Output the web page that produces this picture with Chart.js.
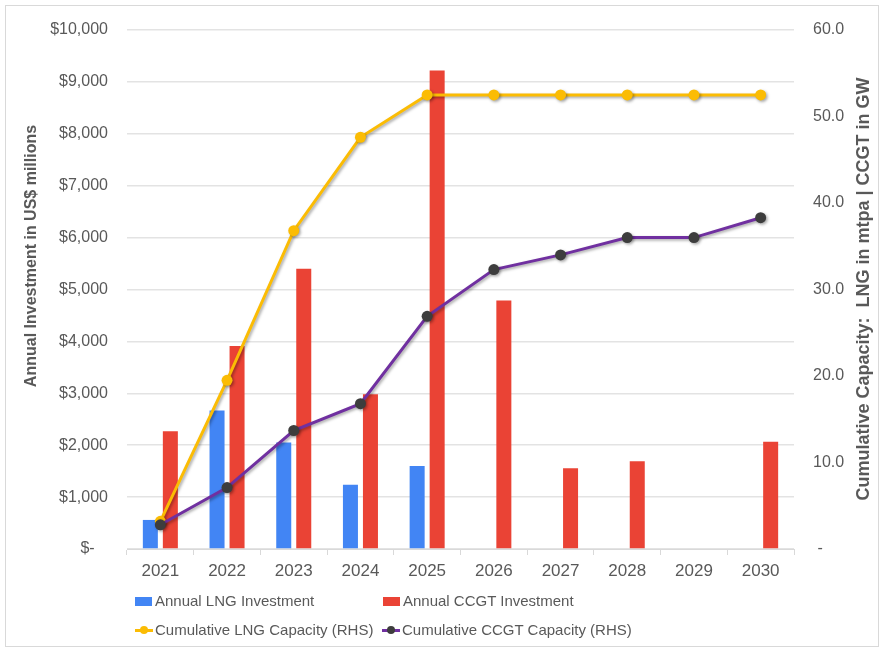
<!DOCTYPE html>
<html>
<head>
<meta charset="utf-8">
<script src="https://cdn.jsdelivr.net/npm/chart.js@4/dist/chart.umd.min.js"></script>
<style>
  html,body{margin:0;padding:0;background:#fff;}
  #wrap{position:relative;width:886px;height:652px;font-family:"Liberation Sans",Arial,sans-serif;}
  #frame{position:absolute;left:5px;top:5px;width:874px;height:642px;border:1px solid #d9d9d9;box-sizing:border-box;pointer-events:none;}
  canvas{position:absolute;left:0;top:0;}
  .lg{position:absolute;font-size:15px;color:#595959;white-space:nowrap;line-height:18px;}
  .sym{position:absolute;}
</style>
</head>
<body>
<div id="wrap">
  <canvas id="c" width="886" height="652"></canvas>
  <div id="frame"></div>
  <div id="legend"></div>
</div>
<script>
// ---- Data ----
const years = ['2021','2022','2023','2024','2025','2026','2027','2028','2029','2030'];
const lngInvestment  = [560, 2670, 2050, 1240, 1600, 0, 0, 0, 0, 0];
const ccgtInvestment = [2270, 3910, 5400, 2980, 9220, 4790, 1555, 1690, 0, 2065];
const lngCapacity    = [3.2, 19.5, 36.8, 47.6, 52.5, 52.5, 52.5, 52.5, 52.5, 52.5];
const ccgtCapacity   = [2.8, 7.1, 13.7, 16.8, 26.9, 32.3, 34.0, 36.0, 36.0, 38.3];
const seriesLabels = ['Annual LNG Investment','Annual CCGT Investment','Cumulative LNG Capacity (RHS)','Cumulative CCGT Capacity (RHS)'];
const leftTitle  = 'Annual Investment in US$ millions';
const rightTitle = 'Cumulative Capacity:  LNG in mtpa | CCGT in GW';

const BLUE='#4285F4', RED='#EA4335', YELLOW='#FBBC04', PURPLE='#7030A0', DOT='#3d3d3d';
const TXT='#595959', FONT='"Liberation Sans", Arial, sans-serif';

const shadowPlugin = {
  id:'shadow',
  beforeDatasetDraw(chart,args){
    if(chart.data.datasets[args.index].type==='line'){
      const ctx=chart.ctx; ctx.save();
      ctx.shadowColor='rgba(0,0,0,0.35)'; ctx.shadowBlur=3; ctx.shadowOffsetX=1.5; ctx.shadowOffsetY=1.5;
    }
  },
  afterDatasetDraw(chart,args){
    if(chart.data.datasets[args.index].type==='line'){ chart.ctx.restore(); }
  }
};
const titlesPlugin = {
  id:'axisTitles',
  afterDraw(chart){
    const ctx=chart.ctx; ctx.save();
    ctx.fillStyle=TXT; ctx.font='bold 16px '+FONT; ctx.textAlign='center'; ctx.textBaseline='middle';
    ctx.translate(32,256); ctx.rotate(-Math.PI/2); ctx.fillText(leftTitle,0,0);
    ctx.restore(); ctx.save();
    ctx.fillStyle=TXT; ctx.font='bold 18px '+FONT; ctx.textAlign='center'; ctx.textBaseline='middle';
    ctx.translate(864,289); ctx.rotate(-Math.PI/2); ctx.fillText(rightTitle,0,0);
    ctx.restore();
  }
};

const chart = new Chart(document.getElementById('c'), {
  data:{
    labels: years,
    datasets:[
      {type:'line', label:seriesLabels[3], data:ccgtCapacity, yAxisID:'y1', borderColor:PURPLE, backgroundColor:DOT,
       pointBackgroundColor:DOT, pointBorderColor:DOT, pointRadius:5.5, pointBorderWidth:0, borderWidth:3, tension:0, order:0},
      {type:'line', label:seriesLabels[2], data:lngCapacity, yAxisID:'y1', borderColor:YELLOW, backgroundColor:YELLOW,
       pointBackgroundColor:YELLOW, pointBorderColor:YELLOW, pointRadius:5.5, pointBorderWidth:0, borderWidth:3, tension:0, order:1},
      {type:'bar', label:seriesLabels[0], data:lngInvestment, yAxisID:'y', backgroundColor:BLUE, order:2,
       categoryPercentage:0.6, barPercentage:0.75},
      {type:'bar', label:seriesLabels[1], data:ccgtInvestment, yAxisID:'y', backgroundColor:RED, order:2,
       categoryPercentage:0.6, barPercentage:0.75}
    ]
  },
  options:{
    responsive:false, animation:false, devicePixelRatio:1,
    layout:{padding:{top:30,bottom:73,left:0,right:0}},
    plugins:{legend:{display:false}, tooltip:{enabled:false}},
    scales:{
      x:{
        offset:true,
        grid:{offset:true, drawOnChartArea:false, drawTicks:true, tickLength:6, color:'#d9d9d9'},
        border:{display:true, color:'#d9d9d9'},
        ticks:{color:TXT, font:{family:FONT,size:17}, padding:6, autoSkip:false, maxRotation:0},
        afterFit(s){ s.height=30; }
      },
      y:{
        position:'left', min:0, max:10000,
        ticks:{stepSize:1000, color:TXT, font:{family:FONT,size:16}, padding:19,
          callback:v=> v===0 ? '$-   ' : '$'+v.toLocaleString('en-US')},
        grid:{color:'#e3e3e3', drawTicks:false, lineWidth:1.5},
        border:{display:false},
        afterFit(s){ s.width=127; }
      },
      y1:{
        position:'right', min:0, max:60,
        ticks:{stepSize:10, color:TXT, font:{family:FONT,size:16}, padding:19,
          callback:v=> v===0 ? ' -' : v.toFixed(1)},
        grid:{drawOnChartArea:false, drawTicks:false},
        border:{display:false},
        afterFit(s){ s.width=92; }
      }
    }
  },
  plugins:[shadowPlugin, titlesPlugin]
});

// ---- HTML legend built from datasets ----
const lg = document.getElementById('legend');
const items = [
  {label:seriesLabels[0], kind:'box', color:BLUE, x:135, y:601},
  {label:seriesLabels[1], kind:'box', color:RED, x:383, y:601},
  {label:seriesLabels[2], kind:'line', color:YELLOW, dot:YELLOW, x:135, y:630},
  {label:seriesLabels[3], kind:'line', color:PURPLE, dot:DOT, x:382, y:630}
];
items.forEach(it=>{
  if(it.kind==='box'){
    const b=document.createElement('div'); b.className='sym';
    Object.assign(b.style,{left:it.x+'px',top:(it.y-4)+'px',width:'17px',height:'9px',background:it.color});
    lg.appendChild(b);
  } else {
    const l=document.createElement('div'); l.className='sym';
    Object.assign(l.style,{left:it.x+'px',top:(it.y-1.5)+'px',width:'18px',height:'3px',background:it.color});
    lg.appendChild(l);
    const d=document.createElement('div'); d.className='sym';
    Object.assign(d.style,{left:(it.x+5)+'px',top:(it.y-4)+'px',width:'8px',height:'8px',borderRadius:'50%',background:it.dot});
    lg.appendChild(d);
  }
  const t=document.createElement('div'); t.className='lg'; t.textContent=it.label;
  Object.assign(t.style,{left:(it.x+20)+'px',top:(it.y-9)+'px'});
  lg.appendChild(t);
});
</script>
</body>
</html>
